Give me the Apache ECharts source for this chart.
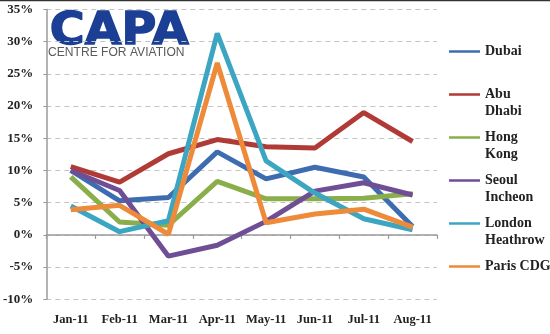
<!DOCTYPE html>
<html>
<head>
<meta charset="utf-8">
<script src="https://cdn.jsdelivr.net/npm/echarts@6/dist/echarts.min.js"></script>
<style>
html,body{margin:0;padding:0;background:#fff;}
#c{width:550px;height:334px;}
</style>
</head>
<body>
<div id="c"></div>
<script>
var months = ['Jan-11','Feb-11','Mar-11','Apr-11','May-11','Jun-11','Jul-11','Aug-11'];
var dubai   = [10.0, 5.3, 5.8, 12.9, 8.7, 10.5, 9.0, 1.3];
var abuDhabi = [10.6, 8.2, 12.6, 14.8, 13.7, 13.5, 19.0, 14.5];
var hongKong = [9.0, 2.0, 1.5, 8.3, 5.6, 5.6, 5.7, 6.4];
var seoul   = [10.0, 6.9, -3.3, -1.6, 2.1, 6.8, 8.1, 6.2];
var london  = [4.5, 0.5, 2.2, 31.3, 11.5, 6.5, 2.5, 0.8];
var paris   = [3.9, 4.6, 0.1, 26.7, 1.9, 3.25, 4.0, 1.2];
var seriesNames = ['Dubai','Abu Dhabi','Hong Kong','Seoul Incheon','London Heathrow','Paris CDG'];
var legendLabels = ['Dubai\n ','Abu\nDhabi','Hong\nKong','Seoul\nIncheon','London\nHeathrow','Paris CDG\n '];
var colors = ['#3D6DB0','#B03A36','#8AAE4A','#6F4E96','#3CA6C2','#EE8B3A'];
var values = [dubai, abuDhabi, hongKong, seoul, london, paris];

var chart = echarts.init(document.getElementById('c'), null, {renderer:'canvas'});
var serif = '"Liberation Serif", "DejaVu Serif", serif';

var series = seriesNames.map(function(n, i){
  return {
    name: n, type: 'line', data: values[i], xAxisIndex: 0,
    symbol: 'none', showSymbol: false, animation: false,
    lineStyle: {width: 5, color: colors[i]},
    itemStyle: {color: colors[i]}
  };
});

chart.setOption({
  animation: false,
  color: colors,
  grid: {left: 45, right: 113, top: 9.5, bottom: 34.7, containLabel: false},
  xAxis: [{
    type: 'category', data: months, position: 'bottom', boundaryGap: true,
    axisLine: {show: false, onZero: false},
    axisTick: {show: false},
    axisLabel: {interval: 0, margin: 14, color: '#222', fontFamily: serif, fontWeight: 'bold', fontSize: 12.5}
  }, {
    type: 'category', data: months, position: 'bottom', boundaryGap: true,
    axisLine: {show: true, onZero: true, lineStyle: {color: '#9a9a9a', width: 1.5}},
    axisTick: {show: true, interval: 0, inside: false, length: 4, lineStyle: {color: '#9a9a9a', width: 1.2}},
    axisLabel: {show: false}
  }],
  yAxis: {
    type: 'value', min: -10, max: 35, interval: 5,
    axisLine: {show: true, lineStyle: {color: '#9a9a9a', width: 1.5}},
    axisTick: {show: true, length: 3, lineStyle: {color: '#9a9a9a'}},
    axisLabel: {formatter: '{value}%', margin: 13, color: '#222', fontFamily: serif, fontWeight: 'bold', fontSize: 13},
    splitLine: {show: true, lineStyle: {color: '#c4c4c4', type: [5, 4], width: 1}}
  },
  legend: {
    orient: 'vertical', left: 449, top: 26, padding: 0,
    icon: 'rect', itemWidth: 31, itemHeight: 2.5, itemGap: -8,
    data: seriesNames,
    formatter: function(name){ return ' \n' + legendLabels[seriesNames.indexOf(name)]; },
    textStyle: {fontFamily: serif, fontWeight: 'bold', fontSize: 14, color: '#222', lineHeight: 17}
  },
  graphic: [
    {type: 'line', shape: {x1: 0, y1: 0.5, x2: 550, y2: 0.5}, style: {stroke: '#333', lineWidth: 1.5}, silent: true},
    {type: 'text', left: 49, top: 10, scaleX: 1.08,
     style: {text: 'CAPA', fill: '#1B3F95', stroke: '#1B3F95', lineWidth: 1.5, font: 'bold 44px "DejaVu Sans", sans-serif'}},
    {type: 'text', left: 48, top: 45.5, scaleX: 0.93,
     style: {text: 'CENTRE FOR AVIATION', fill: '#5a5a5a', font: '13px "Liberation Sans", Arial, sans-serif'}}
  ],
  series: series
});
</script>
</body>
</html>
